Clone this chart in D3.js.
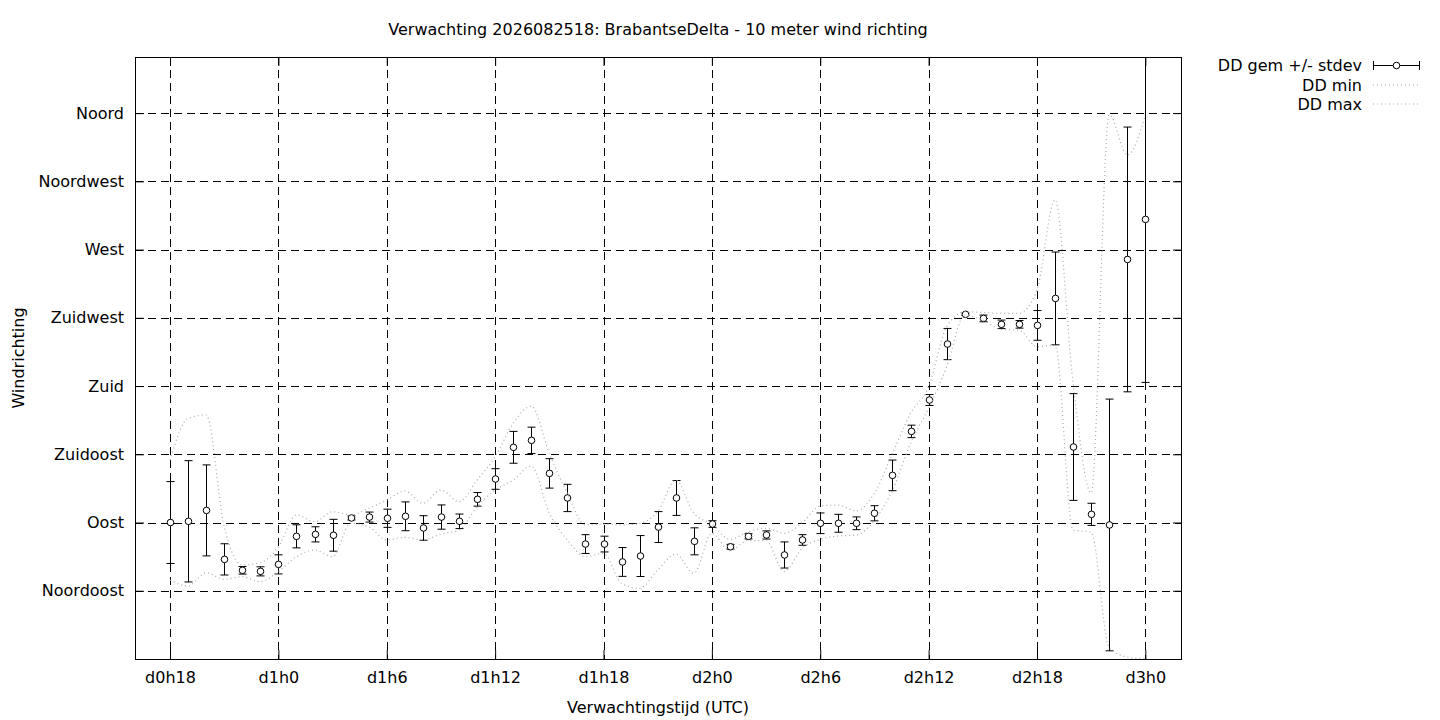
<!DOCTYPE html>
<html>
<head>
<meta charset="utf-8">
<script src="https://cdn.jsdelivr.net/npm/d3@7"></script>
<style>
  html, body { margin: 0; padding: 0; background: #fff; }
  svg text { font-family: "DejaVu Sans", sans-serif; fill: #000; }
</style>
</head>
<body>
<svg id="chart" width="1440" height="720"></svg>
<script>
// ---- data (hours since d0h0) ----
const hours = [18,19,20,21,22,23,24,25,26,27,28,29,30,31,32,33,34,35,36,37,38,39,40,41,42,43,44,45,
  46,47,48,49,50,51,52,53,54,55,56,57,58,59,60,61,62,63,64,65,66,67,68,69,70,71,72];
const ddMean = [90, 90.8, 98, 65.7, 58.5, 57.8, 62.4, 80.9, 82.2, 81.6, 93, 93.6, 92.8, 94.1, 86.4, 93.6,
  90.8, 105.3, 118.7, 139.6, 144.2, 122.4, 106.2, 75.8, 75.8, 64, 67.9, 87, 106.2, 77.6, 89, 74, 80.9,
  81.8, 68.6, 78.5, 89.5, 89.5, 89.5, 96.1, 121.1, 150.1, 170.8, 207.7, 227.3, 224.6, 220.7, 220.7, 220,
  237.8, 139.8, 95.4, 88.4, 263.5, 289.9];
const ddStdev = [27, 40, 30, 10.3, 2.5, 3, 6.3, 7.6, 5, 10.5, 1.3, 3.3, 6, 9.5, 8.1, 8, 4.8, 4.5, 6.8,
  10.5, 8.7, 9.7, 9, 6.2, 5.2, 9.5, 13.5, 10.2, 11.5, 8.9, 2.2, 1.6, 1.7, 2.7, 8.6, 3.5, 6.8, 5.9, 4.2,
  5, 10.1, 4.1, 3.6, 10.3, 0.8, 2.2, 2.8, 2.5, 9.8, 30.6, 35.2, 7.3, 83, 87.3, 107.5];
const ddMin = [52.1, 48.1, 56.9, 52.5, 54.3, 51, 57.6, 67.5, 71.9, 67.5, 89.5, 87.2, 78.5, 80.2, 78.5,
  82.4, 85.1, 100.4, 111.4, 118, 127.3, 96.1, 78.5, 67.5, 69.7, 49.9, 46.6, 58.7, 69.2, 56.5, 82.9,
  71.4, 78, 78, 57.6, 73, 78.9, 81.1, 81.8, 91.6, 111.4, 142.2, 165.3, 192.7, 226.8, 223.5, 217.4,
  216.9, 205.9, 207, 85.1, 83.7, 7.3, 1.3, 0];
const ddMax = [131.2, 158.7, 160.9, 87.2, 62, 63.5, 74, 95, 90.5, 97.1, 95, 99.4, 104.8, 110.8, 102.7,
  111.4, 103.7, 118, 133.4, 155.4, 166.8, 135.6, 109.3, 88.4, 89, 88.4, 89.5, 97.1, 118, 96.1, 89, 78.9,
  83.9, 86.2, 82.9, 89.9, 100.9, 101.5, 97.6, 109.3, 135.6, 162, 179.5, 219.1, 229, 228.6, 227.9, 227.9,
  243.3, 302.8, 182, 109.5, 359, 332.3, 358.7];

const xTickHours = [18, 24, 30, 36, 42, 48, 54, 60, 66, 72];
const xTickLabels = ["d0h18", "d1h0", "d1h6", "d1h12", "d1h18", "d2h0", "d2h6", "d2h12", "d2h18", "d3h0"];
const yTickValues = [45, 90, 135, 180, 225, 270, 315, 360];
const yTickLabels = ["Noordoost", "Oost", "Zuidoost", "Zuid", "Zuidwest", "West", "Noordwest", "Noord"];

const titleText = "Verwachting 2026082518: BrabantseDelta - 10 meter wind richting";
const xLabelText = "Verwachtingstijd (UTC)";
const yLabelText = "Windrichting";
const legendLabels = ["DD gem +/- stdev", "DD min", "DD max"];

// ---- layout ----
const L = 135, R = 1182, T = 57, B = 659;
const FS = 16;
const svg = d3.select("#chart");

const x = d3.scaleLinear().domain([16.06, 74.03]).range([L, R]);
const y = d3.scaleLinear().domain([0, 397]).range([B, T]);

svg.append("defs").append("clipPath").attr("id", "plotclip")
  .append("rect").attr("x", L).attr("y", T).attr("width", R - L).attr("height", B - T);

// grid
const grid = svg.append("g").attr("stroke", "#000").attr("stroke-width", 1)
  .attr("stroke-dasharray", "8,5").attr("fill", "none");
xTickHours.forEach(h => {
  grid.append("line").attr("x1", Math.round(x(h)) + 0.5).attr("x2", Math.round(x(h)) + 0.5)
    .attr("y1", T).attr("y2", B);
});
yTickValues.forEach(v => {
  grid.append("line").attr("y1", Math.round(y(v)) + 0.5).attr("y2", Math.round(y(v)) + 0.5)
    .attr("x1", L).attr("x2", R);
});

// axes via d3 axis (ticks inward, both sides)
const xAxisB = d3.axisBottom(x).tickValues(xTickHours).tickSizeInner(-9).tickSizeOuter(0)
  .tickFormat((d, i) => xTickLabels[i]).tickPadding(13);
const gxb = svg.append("g").attr("transform", `translate(0,${B})`).call(xAxisB);
const xAxisT = d3.axisTop(x).tickValues(xTickHours).tickSizeInner(-9).tickSizeOuter(0).tickFormat("");
const gxt = svg.append("g").attr("transform", `translate(0,${T})`).call(xAxisT);
const yAxisL = d3.axisLeft(y).tickValues(yTickValues).tickSizeInner(-9).tickSizeOuter(0)
  .tickFormat((d, i) => yTickLabels[i]).tickPadding(11);
const gyl = svg.append("g").attr("transform", `translate(${L},0)`).call(yAxisL);
const yAxisR = d3.axisRight(y).tickValues(yTickValues).tickSizeInner(-9).tickSizeOuter(0).tickFormat("");
const gyr = svg.append("g").attr("transform", `translate(${R},0)`).call(yAxisR);
[gxb, gxt, gyl, gyr].forEach(g => {
  g.select(".domain").remove();
  g.selectAll("text").attr("font-size", FS).attr("font-family", "DejaVu Sans").attr("fill", "#000");
  g.selectAll("line").attr("stroke", "#000");
});

// border
svg.append("rect").attr("x", L + 0.5).attr("y", T + 0.5).attr("width", R - L - 1).attr("height", B - T)
  .attr("fill", "none").attr("stroke", "#000").attr("stroke-width", 1);

// data
const data = hours.map((h, i) => ({h, m: ddMean[i], s: ddStdev[i], lo: ddMin[i], hi: ddMax[i]}));
const plot = svg.append("g").attr("clip-path", "url(#plotclip)");

// error bars
const eb = plot.append("g").attr("stroke", "#000").attr("stroke-width", 1).attr("fill", "none");
data.forEach(d => {
  const cx = Math.round(x(d.h)) + 0.5, y1 = y(d.m + d.s), y2 = y(d.m - d.s);
  eb.append("line").attr("x1", cx).attr("x2", cx).attr("y1", y1).attr("y2", y2);
  eb.append("line").attr("x1", cx - 4).attr("x2", cx + 4).attr("y1", y1).attr("y2", y1);
  eb.append("line").attr("x1", cx - 4).attr("x2", cx + 4).attr("y1", y2).attr("y2", y2);
});
plot.append("g").selectAll("circle").data(data).join("circle")
  .attr("cx", d => Math.round(x(d.h)) + 0.5).attr("cy", d => y(d.m)).attr("r", 3.3)
  .attr("fill", "#fff").attr("stroke", "#000").attr("stroke-width", 1);

// min / max smooth lines
const lineMin = d3.line().x(d => x(d.h)).y(d => y(d.lo)).curve(d3.curveMonotoneX);
const lineMax = d3.line().x(d => x(d.h)).y(d => y(d.hi)).curve(d3.curveMonotoneX);
plot.append("path").attr("d", lineMin(data)).attr("fill", "none").attr("stroke", "#aaa")
  .attr("stroke-width", 1.2).attr("stroke-dasharray", "1,3");
plot.append("path").attr("d", lineMax(data)).attr("fill", "none").attr("stroke", "#aaa")
  .attr("stroke-width", 1.2).attr("stroke-dasharray", "1,3");

// texts
svg.append("text").attr("x", 658).attr("y", 35).attr("text-anchor", "middle").attr("font-size", FS).text(titleText);
svg.append("text").attr("x", 658).attr("y", 713).attr("text-anchor", "middle").attr("font-size", FS).text(xLabelText);
svg.append("text").attr("transform", "translate(24,358) rotate(-90)").attr("text-anchor", "middle")
  .attr("font-size", FS).text(yLabelText);

// legend
const lg = svg.append("g");
const lgY = [65, 85, 104];
legendLabels.forEach((t, i) => {
  lg.append("text").attr("x", 1362).attr("y", lgY[i] + 6).attr("text-anchor", "end").attr("font-size", FS).text(t);
});
lg.append("line").attr("x1", 1373).attr("x2", 1420).attr("y1", lgY[0] + 0.5).attr("y2", lgY[0] + 0.5).attr("stroke", "#000");
lg.append("line").attr("x1", 1373.5).attr("x2", 1373.5).attr("y1", lgY[0] - 4).attr("y2", lgY[0] + 5).attr("stroke", "#000");
lg.append("line").attr("x1", 1419.5).attr("x2", 1419.5).attr("y1", lgY[0] - 4).attr("y2", lgY[0] + 5).attr("stroke", "#000");
lg.append("circle").attr("cx", 1396.5).attr("cy", lgY[0] + 0.5).attr("r", 3.3).attr("fill", "#fff").attr("stroke", "#000");
[1, 2].forEach(i => {
  lg.append("line").attr("x1", 1373).attr("x2", 1420).attr("y1", lgY[i]).attr("y2", lgY[i])
    .attr("stroke", "#aaa").attr("stroke-width", 1.2).attr("stroke-dasharray", "1,3");
});
</script>
</body>
</html>
